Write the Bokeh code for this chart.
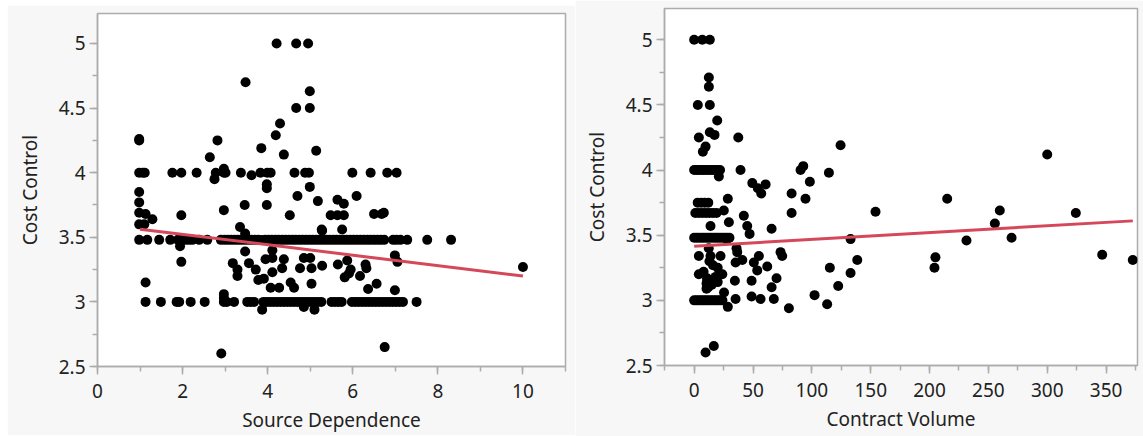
from bokeh.plotting import figure
from bokeh.layouts import row, column, Spacer
from bokeh.models import SingleIntervalTicker, Range1d
from bokeh.embed import file_html
from bokeh.resources import INLINE

# ---------------- Left panel: Source Dependence vs Cost Control ----------------
sd_x = [
    4.21, 4.67, 4.95, 3.48, 4.99, 4.67, 4.99, 4.29, 4.19, 0.98, 0.98, 2.82, 3.85, 5.14, 2.64, 4.38,
    0.98, 1.06, 1.11, 1.76, 1.97, 2.33, 2.78, 2.97, 3.01, 3.37, 3.83, 3.99, 4.07, 4.63, 4.88, 4.97,
    5.99, 6.42, 6.81, 7.03,
    2.75, 2.97, 3.62, 3.98, 3.98, 0.98, 4.70, 4.99, 6.09,
    0.98, 3.46, 3.98, 5.18, 5.64, 5.79, 2.97,
    0.98, 1.13, 1.29, 1.97, 4.52, 5.48, 5.64, 5.79, 6.50, 6.68, 6.73,
    0.98, 1.10, 3.35, 5.27, 5.75, 5.28,
    0.98, 1.17, 1.45, 1.71, 1.89, 2.00, 2.07, 2.15, 2.23, 2.39, 2.58, 2.90, 2.98, 3.06, 3.14, 3.22,
    3.30, 3.38, 3.46, 3.54, 3.62, 3.70, 3.78, 3.86, 3.94, 4.02, 4.10, 4.18, 4.26, 4.34, 4.42, 4.50,
    4.58, 4.66, 4.74, 4.82, 4.90, 4.98, 5.06, 5.14, 5.22, 5.30, 5.38, 5.46, 5.54, 5.62, 5.70, 5.78,
    5.86, 5.94, 6.02, 6.10, 6.18, 6.26, 6.34, 6.42, 6.50, 6.58, 6.66, 6.74, 6.95, 7.03, 7.12, 7.28,
    7.75, 8.31,
    1.94, 3.47, 3.47, 1.97, 3.18, 3.29, 3.29, 3.56, 3.72, 3.95, 4.11, 4.11, 4.38, 3.78, 3.91, 4.07,
    4.27, 4.11, 4.34, 4.54, 4.62, 4.76, 4.85, 5.00, 5.03, 5.28, 5.03, 5.65, 5.87, 5.95, 5.81, 5.91,
    6.17, 6.30, 6.32, 6.36, 6.56, 6.99, 7.05, 6.99, 10.0, 1.13, 2.97, 2.97,
    1.13, 1.49, 1.86, 1.92, 2.19, 2.52, 2.97, 3.04, 3.21, 3.52, 3.60, 3.68, 3.90, 3.98, 4.06, 4.14,
    4.22, 4.30, 4.38, 4.46, 4.54, 4.62, 4.70, 4.78, 4.86, 4.94, 5.02, 5.10, 5.18, 5.26, 5.50, 5.58,
    5.66, 5.74, 5.98, 6.06, 6.14, 6.22, 6.30, 6.38, 6.46, 6.54, 6.62, 6.70, 6.78, 6.86, 6.94, 7.02,
    7.10, 7.18, 7.50,
    3.87, 4.85, 5.10, 2.91, 6.75,
]
sd_y = [
    5.00, 5.00, 5.00, 4.70, 4.63, 4.50, 4.50, 4.38, 4.29, 4.26, 4.25, 4.25, 4.19, 4.17, 4.12, 4.14,
    4.00, 4.00, 4.00, 4.00, 4.00, 4.00, 4.00, 4.00, 4.00, 4.00, 4.00, 4.00, 4.00, 4.00, 4.00, 4.00,
    4.00, 4.00, 4.00, 4.00,
    3.95, 4.03, 3.98, 3.91, 3.88, 3.85, 3.82, 3.89, 3.82,
    3.77, 3.75, 3.75, 3.78, 3.79, 3.76, 3.71,
    3.69, 3.68, 3.64, 3.67, 3.67, 3.67, 3.67, 3.67, 3.68, 3.68, 3.69,
    3.60, 3.60, 3.58, 3.56, 3.56, 3.55,
    3.48, 3.48, 3.48, 3.48, 3.48, 3.48, 3.48, 3.48, 3.48, 3.48, 3.48, 3.48, 3.48, 3.48, 3.48, 3.48,
    3.48, 3.48, 3.48, 3.48, 3.48, 3.48, 3.48, 3.48, 3.48, 3.48, 3.48, 3.48, 3.48, 3.48, 3.48, 3.48,
    3.48, 3.48, 3.48, 3.48, 3.48, 3.48, 3.48, 3.48, 3.48, 3.48, 3.48, 3.48, 3.48, 3.48, 3.48, 3.48,
    3.48, 3.48, 3.48, 3.48, 3.48, 3.48, 3.48, 3.48, 3.48, 3.48, 3.48, 3.48, 3.48, 3.48, 3.48, 3.48,
    3.48, 3.48,
    3.43, 3.39, 3.53, 3.31, 3.30, 3.25, 3.20, 3.30, 3.25, 3.33, 3.34, 3.40, 3.33, 3.17, 3.18, 3.11,
    3.11, 3.23, 3.26, 3.15, 3.11, 3.26, 3.34, 3.34, 3.26, 3.28, 3.14, 3.29, 3.32, 3.25, 3.19, 3.22,
    3.20, 3.29, 3.26, 3.10, 3.14, 3.36, 3.31, 3.09, 3.27, 3.15, 3.06, 3.03,
    3.00, 3.00, 3.00, 3.00, 3.00, 3.00, 3.00, 3.00, 3.00, 3.00, 3.00, 3.00, 3.00, 3.00, 3.00, 3.00,
    3.00, 3.00, 3.00, 3.00, 3.00, 3.00, 3.00, 3.00, 3.00, 3.00, 3.00, 3.00, 3.00, 3.00, 3.00, 3.00,
    3.00, 3.00, 3.00, 3.00, 3.00, 3.00, 3.00, 3.00, 3.00, 3.00, 3.00, 3.00, 3.00, 3.00, 3.00, 3.00,
    3.00, 3.00, 3.00,
    2.94, 2.96, 2.94, 2.60, 2.65,
]
fit_left_x = [1.0, 10.0]
fit_left_y = [3.563, 3.200]

# ---------------- Right panel: Contract Volume vs Cost Control ----------------
cv_x = [
    0, 6.9, 13.3, 12.5, 12.5, 3.1, 13.3, 19.6, 13.3, 17.3, 4, 37.5, 9.7, 7.4, 124.4, 300,
    0, 2, 4, 6, 8, 10, 12, 14, 16, 18, 20, 22,
    21, 39.4, 90.4, 92.7, 114.5, 98.3, 49.4, 54.1, 60.7, 57, 82.8, 94.6, 28.6, 215,
    3, 6, 9, 12,
    1, 4, 7, 10, 13, 16, 19,
    25.2, 29.5, 13.9, 42.2, 45.1, 47.1, 65.8, 82.8, 154.1, 255.5, 259.7, 324.3,
    0, 2, 4, 6, 8, 10, 12, 14, 16, 18, 20, 22, 24, 26, 28, 30,
    132.9, 231.4, 269.7, 28,
    36, 36.6, 12.4, 4, 13.9, 22.4, 73.4, 74.8, 55, 50.7, 40.9, 35.2, 53.6, 62.1, 4, 11.1,
    18.2, 23.9, 10.5, 10.5, 34.6, 48.8, 70, 65.8, 48.8, 56.4, 35.2, 67.7, 25.4,
    13, 16, 20, 8, 15, 12, 20, 22, 11,
    0, 2, 4, 6, 8, 10, 12, 14, 16, 18, 20, 22, 24,
    28.6, 80.5, 102.3, 113, 115.3, 122.4, 132.9, 138.6, 204.2, 205, 346.7, 372.7, 9.7, 16.7,
]
cv_y = [
    5.00, 5.00, 5.00, 4.71, 4.64, 4.50, 4.50, 4.38, 4.29, 4.27, 4.25, 4.25, 4.18, 4.14, 4.19, 4.12,
    4.00, 4.00, 4.00, 4.00, 4.00, 4.00, 4.00, 4.00, 4.00, 4.00, 4.00, 4.00,
    3.95, 4.00, 4.00, 4.03, 3.98, 3.91, 3.90, 3.86, 3.89, 3.82, 3.82, 3.78, 3.78, 3.78,
    3.75, 3.75, 3.75, 3.75,
    3.67, 3.67, 3.67, 3.67, 3.67, 3.67, 3.67,
    3.69, 3.60, 3.57, 3.65, 3.57, 3.51, 3.55, 3.67, 3.68, 3.59, 3.69, 3.67,
    3.48, 3.48, 3.48, 3.48, 3.48, 3.48, 3.48, 3.48, 3.48, 3.48, 3.48, 3.48, 3.48, 3.48, 3.48, 3.48,
    3.47, 3.46, 3.48, 3.47,
    3.40, 3.37, 3.40, 3.34, 3.34, 3.34, 3.37, 3.34, 3.34, 3.29, 3.31, 3.29, 3.23, 3.26, 3.20, 3.15,
    3.18, 3.20, 3.13, 3.09, 3.15, 3.15, 3.17, 3.10, 3.03, 3.01, 3.01, 3.01, 3.06,
    3.30, 3.27, 3.25, 3.22, 3.12, 3.10, 3.14, 3.20, 3.17,
    3.00, 3.00, 3.00, 3.00, 3.00, 3.00, 3.00, 3.00, 3.00, 3.00, 3.00, 3.00, 3.00,
    2.95, 2.94, 3.04, 2.97, 3.25, 3.11, 3.21, 3.31, 3.25, 3.33, 3.35, 3.31, 2.60, 2.65,
]
fit_right_x = [0.0, 372.7]
fit_right_y = [3.416, 3.610]

x_label_left = "Source Dependence"
x_label_right = "Contract Volume"
y_label = "Cost Control"

FONT = "Noto Sans"
AXIS_GRAY = "#acacac"
TEXT = "#222222"
PANEL_BG = "#f7f7f7"
DOT = "#000000"
FIT = "#d4485a"


def make_panel(xs, ys, fx, fy, xr, yr, xint, xlabel, fw, fh, bl, br, bt, bb):
    p = figure(frame_width=fw, frame_height=fh, output_backend="svg", toolbar_location=None,
               x_range=Range1d(*xr), y_range=Range1d(*yr),
               min_border_left=bl, min_border_right=br, min_border_top=bt, min_border_bottom=bb,
               background_fill_color="white", border_fill_color=PANEL_BG,
               outline_line_color=AXIS_GRAY, outline_line_width=1.5)
    p.grid.visible = False
    p.xaxis.ticker = SingleIntervalTicker(interval=xint, num_minor_ticks=2)
    p.yaxis.ticker = SingleIntervalTicker(interval=0.5, num_minor_ticks=2)
    for ax in (p.xaxis[0], p.yaxis[0]):
        ax.axis_line_color = AXIS_GRAY
        ax.axis_line_width = 1.5
        ax.major_tick_line_color = AXIS_GRAY
        ax.minor_tick_line_color = AXIS_GRAY
        ax.major_tick_line_width = 1.5
        ax.minor_tick_line_width = 1.5
        ax.major_tick_out = 8
        ax.major_tick_in = 0
        ax.minor_tick_out = 5
        ax.minor_tick_in = 0
        ax.major_label_text_font = FONT
        ax.major_label_text_font_size = "19px"
        ax.major_label_text_color = TEXT
        ax.axis_label_text_font = FONT
        ax.axis_label_text_font_size = "19px"
        ax.axis_label_text_font_style = "normal"
        ax.axis_label_text_color = TEXT
    p.xaxis.axis_label = xlabel
    p.yaxis.axis_label = y_label
    p.xaxis.major_label_standoff = 9
    p.yaxis.major_label_standoff = 4
    p.xaxis.axis_label_standoff = 6
    p.yaxis.axis_label_standoff = 13
    p.scatter(xs, ys, size=10, fill_color=DOT, line_color=DOT, line_width=0)
    p.line(fx, fy, line_color=FIT, line_width=3)
    return p


p1 = make_panel(sd_x, sd_y, fit_left_x, fit_left_y, (0, 11), (2.5, 5.232), 2, x_label_left,
                468, 353, 90, 10, 8, 65)
p2 = make_panel(cv_x, cv_y, fit_right_x, fit_right_y, (-25.2, 376.7), (2.5, 5.24), 50, x_label_right,
                473, 357, 89, 6, 8, 71)

layout = row(Spacer(width=7, height=436), column(Spacer(width=568, height=5), p1), p2)

html = file_html(layout, INLINE)
html = html.replace("<head>", "<head><style>html,body{margin:0;padding:0;background:#ffffff;overflow:hidden;}</style>", 1)
open("out.html", "w").write(html)
